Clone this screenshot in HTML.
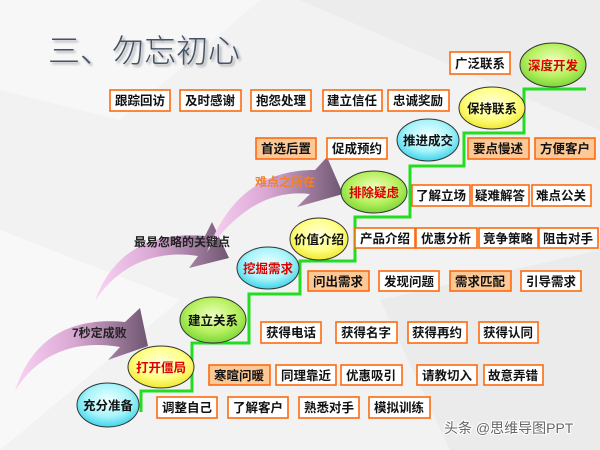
<!DOCTYPE html>
<html><head><meta charset="utf-8"><style>
html,body{margin:0;padding:0;width:600px;height:450px;overflow:hidden;background:#f3f3f3}
svg text{font-family:"Liberation Sans","Noto Sans CJK SC",sans-serif}
</style></head><body>
<svg width="600" height="450" viewBox="0 0 600 450" xmlns="http://www.w3.org/2000/svg">
<defs>
<radialGradient id="gG" cx="50%" cy="40%" r="60%"><stop offset="0" stop-color="#eeffc0"/><stop offset="0.6" stop-color="#b8f060"/><stop offset="1" stop-color="#7ad638"/></radialGradient>
<radialGradient id="gY" cx="50%" cy="40%" r="60%"><stop offset="0" stop-color="#ffffe0"/><stop offset="0.6" stop-color="#ffff88"/><stop offset="1" stop-color="#f0e830"/></radialGradient>
<radialGradient id="gC" cx="50%" cy="40%" r="60%"><stop offset="0" stop-color="#f0ffff"/><stop offset="0.6" stop-color="#a8f4fa"/><stop offset="1" stop-color="#40d4ea"/></radialGradient>
<linearGradient id="aG" x1="0" y1="0" x2="1" y2="0"><stop offset="0" stop-color="#fbd3f5"/><stop offset="0.45" stop-color="#d8a6d2"/><stop offset="1" stop-color="#6e5670"/></linearGradient>
<filter id="sh"><feDropShadow dx="2" dy="2" stdDeviation="1.2" flood-color="#000" flood-opacity="0.35"/></filter>
</defs>
<rect width="600" height="450" fill="#f2f2f2"/>
<polygon points="0,0 260,0 120,120 0,90" fill="#f7f7f7"/>
<polygon points="300,0 600,0 600,130" fill="#ececec"/>
<polygon points="0,230 180,300 0,450" fill="#f8f8f8"/>
<polygon points="380,300 600,250 600,450 450,450" fill="#ebebeb"/>

<text x="48" y="62" font-size="32" fill="#44536a" filter="url(#sh)" style="font-family:'Noto Sans CJK SC',sans-serif;font-weight:300">三、勿忘初心</text>

<!-- arrows -->
<g>
<path d="M15,391 C35,330 80,318 125,322 L140,308 L148,346 L108,360 L120,347 C80,340 40,350 15,391 Z" fill="url(#aG)"/>
<path d="M95,301 C115,245 160,232 205,236 L212,222 L229,258 L189,268 L198,256 C160,250 120,262 95,301 Z" fill="url(#aG)"/>
<path d="M207,252 C230,190 270,170 315,170 L327,157 L343,194 L297,207 L310,194 C275,190 240,205 207,252 Z" fill="url(#aG)"/>
</g>
<text x="72" y="337" font-size="12" font-weight="bold" fill="#222">7秒定成败</text>
<text x="134" y="246" font-size="12" font-weight="bold" fill="#222">最易忽略的关键点</text>
<text x="255" y="186" font-size="12" font-weight="bold" fill="#f08030">难点之所在</text>

<!-- green staircase -->
<polyline points="141,412 141,391 192,391 192,343 249,343 249,294 300,294 300,261 355,261 355,217 410,217 410,166 464,166 464,133 524,133 524,89 586,89" fill="none" stroke="#22dd22" stroke-width="3"/>

<!-- boxes -->
<g font-size="12.5" font-weight="bold" fill="#111" text-anchor="middle" stroke-width="1.6">
<g stroke="#ff6a10" fill="#fff">
<rect x="450" y="52" width="60" height="22"/>
<rect x="110" y="90" width="60" height="21"/><rect x="180" y="90" width="61" height="21"/><rect x="251" y="90" width="60" height="21"/><rect x="323" y="90" width="59" height="21"/><rect x="388" y="90" width="61" height="21"/>
<rect x="256" y="138" width="60" height="21" fill="#fcc896"/><rect x="327" y="138" width="60" height="21"/>
<rect x="468" y="138" width="61" height="21" fill="#fcc896"/><rect x="535" y="138" width="60" height="21" fill="#fcc896"/>
<rect x="412" y="185" width="58" height="21"/><rect x="472" y="185" width="57" height="21"/><rect x="532" y="185" width="59" height="21"/>
<rect x="355" y="228" width="60" height="20"/><rect x="416" y="228" width="61" height="20"/><rect x="479" y="228" width="59" height="20"/><rect x="539" y="228" width="59" height="20"/>
<rect x="308" y="271" width="61" height="20" fill="#fcc896"/><rect x="379" y="271" width="60" height="20"/><rect x="450" y="271" width="61" height="20" fill="#fcc896"/><rect x="521" y="271" width="60" height="20"/>
<rect x="261" y="322" width="60" height="21"/><rect x="336" y="322" width="61" height="21"/><rect x="408" y="322" width="59" height="21"/><rect x="479" y="322" width="59" height="21"/>
<rect x="209" y="365" width="61" height="20" fill="#fcc896"/><rect x="276" y="365" width="60" height="20"/><rect x="341" y="365" width="61" height="20"/><rect x="417" y="365" width="60" height="20"/><rect x="484" y="365" width="59" height="20"/>
<rect x="157" y="397" width="60" height="21"/><rect x="228" y="397" width="60" height="21"/><rect x="299" y="397" width="60" height="21"/><rect x="369" y="397" width="61" height="21"/>
</g>
<text x="480" y="68">广泛联系</text>
<text x="140" y="105">跟踪回访</text><text x="210" y="105">及时感谢</text><text x="281" y="105">抱怨处理</text><text x="352" y="105">建立信任</text><text x="418" y="105">忠诚奖励</text>
<text x="286" y="153">首选后置</text><text x="357" y="153">促成预约</text>
<text x="498" y="153">要点慢述</text><text x="565" y="153">方便客户</text>
<text x="441" y="200">了解立场</text><text x="500" y="200">疑难解答</text><text x="561" y="200">难点公关</text>
<text x="385" y="243">产品介绍</text><text x="446" y="243">优惠分析</text><text x="508" y="243">竞争策略</text><text x="568" y="243">阻击对手</text>
<text x="338" y="286">问出需求</text><text x="409" y="286">发现问题</text><text x="480" y="286">需求匹配</text><text x="551" y="286">引导需求</text>
<text x="291" y="337">获得电话</text><text x="366" y="337">获得名字</text><text x="437" y="337">获得再约</text><text x="508" y="337">获得认同</text>
<text x="239" y="380">寒暄问暖</text><text x="306" y="380">同理靠近</text><text x="371" y="380">优惠吸引</text><text x="447" y="380">请教切入</text><text x="513" y="380">故意弄错</text>
<text x="187" y="412">调整自己</text><text x="258" y="412">了解客户</text><text x="329" y="412">熟悉对手</text><text x="399" y="412">模拟训练</text>
</g>

<!-- ellipses -->
<g stroke="#333" stroke-width="1" font-size="12.5" font-weight="bold" text-anchor="middle">
<ellipse cx="553" cy="65" rx="33" ry="22" fill="url(#gG)"/>
<ellipse cx="492" cy="108" rx="33" ry="21" fill="url(#gY)"/>
<ellipse cx="428" cy="140" rx="31" ry="21" fill="url(#gC)"/>
<ellipse cx="374" cy="192" rx="33" ry="21" fill="url(#gG)"/>
<ellipse cx="319" cy="239" rx="29" ry="21" fill="url(#gY)"/>
<ellipse cx="268" cy="268" rx="31" ry="21" fill="url(#gC)"/>
<ellipse cx="213" cy="320" rx="33" ry="23" fill="url(#gG)"/>
<ellipse cx="161" cy="367" rx="33" ry="21" fill="url(#gY)"/>
<ellipse cx="108" cy="405" rx="31" ry="22" fill="url(#gC)"/>
</g>
<g font-size="12.5" font-weight="bold" text-anchor="middle">
<text x="553" y="70" fill="#dd0000">深度开发</text>
<text x="492" y="113" fill="#111">保持联系</text>
<text x="428" y="145" fill="#111">推进成交</text>
<text x="374" y="197" fill="#dd0000">排除疑虑</text>
<text x="319" y="244" fill="#111">价值介绍</text>
<text x="268" y="273" fill="#dd0000">挖掘需求</text>
<text x="213" y="325" fill="#111">建立关系</text>
<text x="161" y="372" fill="#dd0000">打开僵局</text>
<text x="108" y="410" fill="#111">充分准备</text>
</g>

<text x="444" y="433" font-size="14" fill="#666" stroke="#fff" stroke-width="2" paint-order="stroke">头条 @思维导图PPT</text>
</svg>
</body></html>
